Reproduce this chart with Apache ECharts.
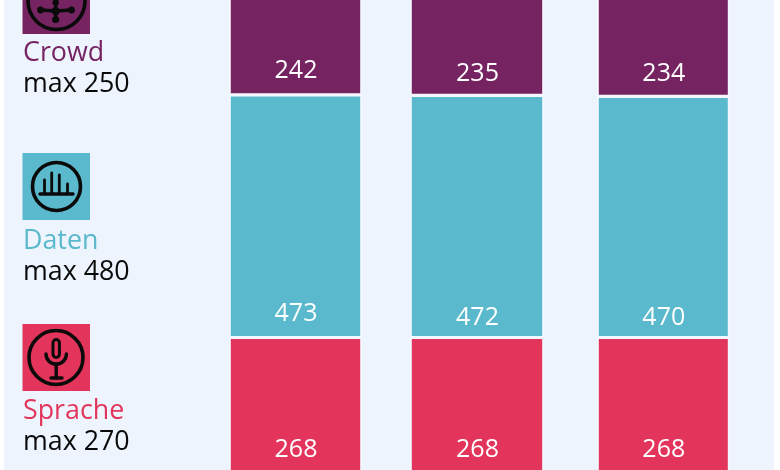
<!DOCTYPE html>
<html>
<head>
<meta charset="utf-8">
<style>html,body{margin:0;padding:0;background:#fff}#c{width:780px;height:470px}</style>
<script src="https://cdn.jsdelivr.net/npm/echarts@6/dist/echarts.min.js"></script>
</head>
<body>
<div id="c"></div>
<script>
const columns = ['A', 'B', 'C'];
const sprache = [268, 268, 268];
const daten = [473, 472, 470];
const crowd = [242, 235, 234];
const names = ['Sprache', 'Daten', 'Crowd'];
const maxima = [270, 480, 250];
const colors = ['#E3355B', '#5AB9CC', '#762362'];
const values = [sprache, daten, crowd];

const black = '#0a0a0a';
const columnBoxes = [[229.2, 132.6], [410.2, 133.6], [597.2, 132.2]];
const labelShifts = [[0, 0, 0], [2, 6, 6], [2, 4, 3]];
const AXIS_MAX = 1000;
const font = '"Open Sans"';

const grids = columnBoxes.map(b => ({left: b[0], width: b[1], top: -38, height: 513, outerBoundsMode: 'none', containLabel: false}));
const xAxes = columns.map((c, i) => ({type: 'category', gridIndex: i, data: [c], show: false}));
const yAxes = columns.map((c, i) => ({type: 'value', gridIndex: i, min: 0, max: AXIS_MAX, show: false}));
const series = [];
columns.forEach((c, i) => {
  names.forEach((n, k) => {
    series.push({
      type: 'bar', name: n, xAxisIndex: i, yAxisIndex: i, stack: 'col' + i,
      barWidth: '100%', silent: true,
      data: [values[k][i]],
      itemStyle: {color: colors[k], borderColor: '#F4F8FE', borderWidth: 1.6},
      label: {show: true, position: 'insideBottom', distance: 13, color: '#fff',
        offset: [0.5, labelShifts[k][i]],
        fontFamily: font, fontSize: 25, lineHeight: 25}
    });
  });
});

const stroke = (w) => ({stroke: black, lineWidth: w, fill: 'none', lineCap: 'round'});
const ring = (x, y, r, w) => ({type: 'circle', shape: {cx: x, cy: y, r: r}, style: stroke(w)});
const seg = (a, b, c, d, w) => ({type: 'line', shape: {x1: a, y1: b, x2: c, y2: d}, style: stroke(w)});
const dot = (x, y, r) => ({type: 'circle', shape: {cx: x, cy: y, r: r}, style: {fill: black}});
const box = (x, y, w, h, col) => ({type: 'rect', shape: {x: x, y: y, width: w, height: h}, style: {fill: col}});
const txt = (x, y, t, col) => ({type: 'text', x: x, y: y,
  style: {text: t, fill: col, font: '26.8px ' + font, verticalAlign: 'middle'}});

const elements = [
  box(4, 0, 770, 470, '#EDF4FE'),
  // Crowd
  box(22.5, -33, 67.5, 67, colors[2]),
  ring(56.5, 1, 28.5, 3.6),
  seg(55.7, 11, 41, 10, 3.4), seg(55.7, 11, 71, 10, 3.4), seg(55.7, 11, 55.7, 19, 3.4), seg(55.7, 11, 55.7, 3, 3.4),
  dot(55.7, 11, 4.2), dot(40.5, 10, 3.4), dot(71.5, 10, 3.4), dot(55.7, 19.5, 3.6), dot(55.7, 2.5, 3.2),
  // Daten
  box(22.5, 153, 67.5, 67, colors[1]),
  ring(56.5, 186.5, 24, 3.6),
  seg(40, 194, 73, 194, 3.4),
  seg(44.5, 193, 44.5, 180, 2.8), seg(51.7, 193, 51.7, 173, 2.8), seg(59.3, 193, 59.3, 175, 2.8), seg(67.5, 193, 67.5, 184, 2.8),
  // Sprache
  box(22.5, 324, 67.5, 67, colors[0]),
  ring(56, 357.5, 27, 3.6),
  {type: 'rect', shape: {x: 53, y: 339.5, width: 6.4, height: 18, r: 3.2}, style: stroke(3)},
  {type: 'arc', shape: {cx: 56.2, cy: 354, r: 10.2, startAngle: 0, endAngle: Math.PI, clockwise: true}, style: stroke(3.4)},
  seg(56.2, 364, 56.2, 377.5, 3.4), seg(51, 378, 62, 378, 3.4),
  // texts
  txt(23, 53, names[2], colors[2]), txt(23, 84, 'max ' + maxima[2], black),
  txt(23, 241, names[1], colors[1]), txt(23, 272, 'max ' + maxima[1], black),
  txt(23, 411, names[0], colors[0]), txt(23, 442, 'max ' + maxima[0], black)
];

const chart = echarts.init(document.getElementById('c'), null, {renderer: 'canvas'});
chart.setOption({
  animation: false,
  backgroundColor: '#fff',
  tooltip: {show: false},
  grid: grids, xAxis: xAxes, yAxis: yAxes, series: series,
  graphic: {elements: elements}
});
</script>
</body>
</html>
